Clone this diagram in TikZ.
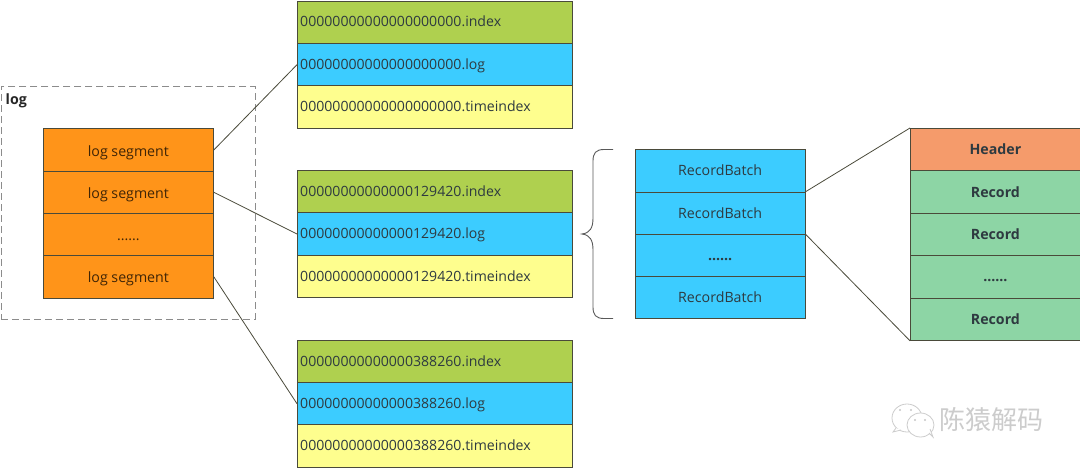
\documentclass[tikz,border=0pt]{standalone}
\usepackage{fontspec}
\setmainfont{Open Sans}
\newfontfamily\cjkwm{Noto Sans CJK SC}
\definecolor{segc}{HTML}{FF9419}
\definecolor{idxc}{HTML}{AFD04F}
\definecolor{logc}{HTML}{3CCCFF}
\definecolor{timec}{HTML}{FEFE8E}
\definecolor{hdrc}{HTML}{F59B6B}
\definecolor{recc}{HTML}{8DD5A5}
\definecolor{edgec}{HTML}{4A4A3A}
\definecolor{txtc}{HTML}{2E3A40}
\tikzset{
  x=1pt,y=-1pt,
  cell/.style={draw=edgec,line width=0.8pt,inner sep=0pt,anchor=north west,font=\fontsize{14.2}{16}\selectfont,text=txtc,text height=13pt,text depth=3pt},
  seg/.style={cell,fill=segc,minimum width=170pt,minimum height=42.25pt,text=black!75!segc,text height=15pt},
  filebox/.style={cell,minimum width=275pt,minimum height=42.2pt},
  fidx/.style={filebox,fill=idxc},
  flog/.style={filebox,fill=logc},
  ftime/.style={filebox,fill=timec},
  fname/.style={anchor=base west,inner sep=0pt,font=\fontsize{14.1}{16}\selectfont,text=txtc},
  batch/.style={cell,fill=logc,minimum width=170.5pt,minimum height=42.1pt},
  hdr/.style={cell,fill=hdrc,minimum width=170pt,minimum height=42.4pt,font=\fontsize{14.2}{16}\selectfont\bfseries},
  rec/.style={cell,fill=recc,minimum width=170pt,minimum height=42.4pt,font=\fontsize{14.2}{16}\selectfont\bfseries},
  link/.style={draw=edgec,line width=0.8pt},
  wm/.style={draw=black!20,line width=0.8pt,fill=white}
}
\begin{document}
\begin{tikzpicture}
\useasboundingbox (0,0) rectangle (1080,468);
% log frame
\node[draw=black!45,dash pattern=on 7pt off 4pt,line width=0.8pt,minimum width=253.5pt,minimum height=233pt,anchor=north west,inner sep=0pt] (frame) at (1,86) {};
\node[anchor=base west,inner sep=0pt,font=\fontsize{14.2}{16}\selectfont\bfseries,text=black!85] (loglabel) at (5.5,105) {log};
% segments
\node[seg] (s1) at (43,128.5) {log segment};
\node[seg] (s2) at (43,170.75) {log segment};
\node[seg] (s3) at (43,213) {......};
\node[seg] (s4) at (43,255.25) {log segment};
% files
\node[fidx] (a1) at (297,1) {};
\node[fname] (a1t) at (300,27) {00000000000000000000.index};
\node[flog] (a2) at (297,43.2) {};
\node[fname] (a2t) at (300,69.5) {00000000000000000000.log};
\node[ftime] (a3) at (297,85.4) {};
\node[fname] (a3t) at (300,111.5) {00000000000000000000.timeindex};
\node[fidx] (b1) at (297,170.3) {};
\node[fname] (b1t) at (300,196.5) {00000000000000129420.index};
\node[flog] (b2) at (297,212.5) {};
\node[fname] (b2t) at (300,239) {00000000000000129420.log};
\node[ftime] (b3) at (297,254.7) {};
\node[fname] (b3t) at (300,281) {00000000000000129420.timeindex};
\node[fidx] (c1) at (297,340) {};
\node[fname] (c1t) at (300,366.5) {00000000000000388260.index};
\node[flog] (c2) at (297,382.2) {};
\node[fname] (c2t) at (300,408.5) {00000000000000388260.log};
\node[ftime] (c3) at (297,424.4) {};
\node[fname] (c3t) at (300,450.5) {00000000000000388260.timeindex};
% batches
\node[batch] (r1) at (634.5,149.5) {RecordBatch};
\node[batch] (r2) at (634.5,191.6) {RecordBatch};
\node[batch] (r3) at (634.5,233.7) {\textbf{......}};
\node[batch] (r4) at (634.5,275.8) {RecordBatch};
% records
\node[hdr] (h) at (910,128) {Header};
\node[rec] (e1) at (910,170.4) {Record};
\node[rec] (e2) at (910,212.8) {Record};
\node[rec] (e3) at (910,255.2) {......};
\node[rec] (e4) at (910,297.6) {Record};
% connectors
\draw[link] (s1.east) -- (a2.west);
\draw[link] (s2.east) -- (b2.west);
\draw[link] (s4.east) -- (c2.west);
\draw[link] (r2.north east) -- (h.north west);
\draw[link] (r2.south east) -- (e4.south west);
% brace
\coordinate (bt) at (613,149.5);
\coordinate (bb) at (613,318.5);
\coordinate (btip) at (582,234);
\draw[draw=black!65,line width=0.9pt] (bt) -- (604,149.5) .. controls (596,149.5) and (593,153) .. (593,161) -- (593,218) .. controls (593,228) and (590,233) .. (btip) .. controls (590,235) and (593,240) .. (593,250) -- (593,307) .. controls (593,315) and (596,318.5) .. (604,318.5) -- (bb);
% watermark
\begin{scope}
\draw[wm] (907,418) ellipse (15pt and 14pt);
\draw[wm] (896,428) -- (893,432) -- (901,430);
\draw[wm] (920.5,425) ellipse (13.5pt and 12pt);
\draw[wm] (929,433) -- (933,437) -- (930,429);
\fill[black!22] (900,410) circle (1.1pt) (911,410) circle (1.1pt) (915,420) circle (1.1pt) (925,420) circle (1.1pt);
\end{scope}
\node[anchor=west,inner sep=0pt,font=\cjkwm\fontsize{26}{28}\selectfont,text=black!20] (wmark) at (939,420) {陈猿解码};
\end{tikzpicture}
\end{document}
